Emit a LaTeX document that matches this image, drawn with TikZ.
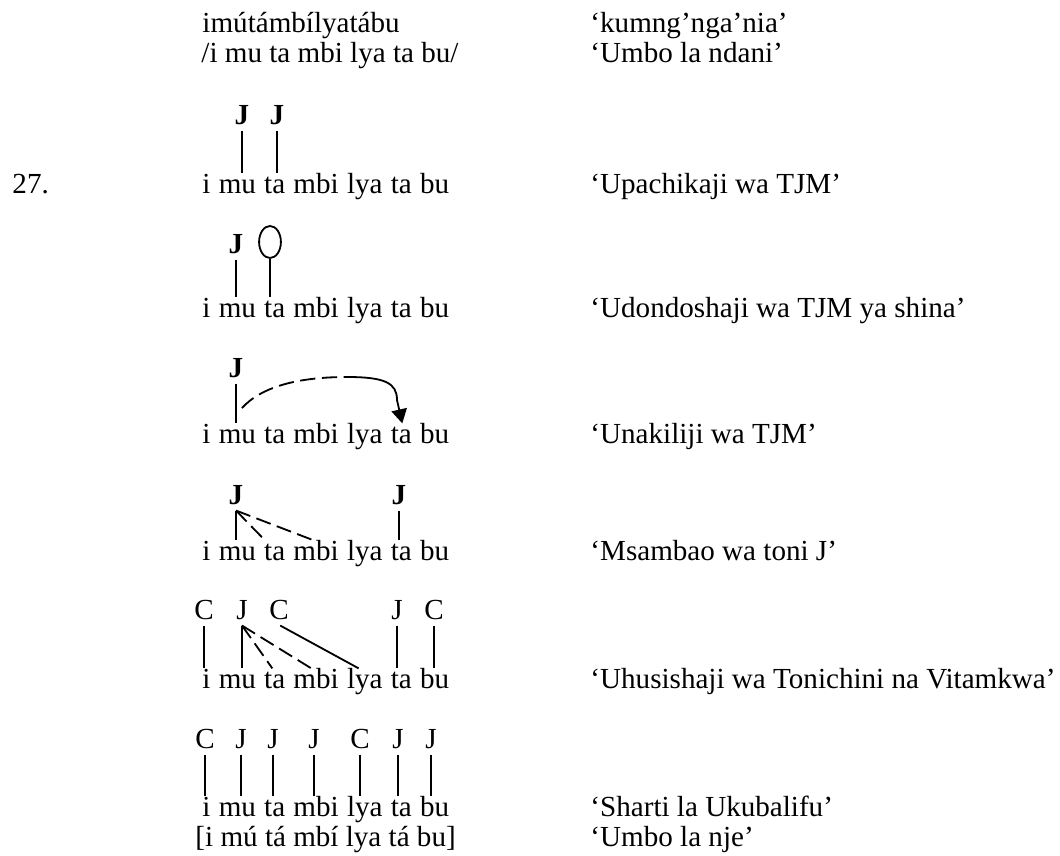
\documentclass[tikz,border=0pt]{standalone}
\usepackage{fontspec}
\setmainfont{Liberation Serif}
\usetikzlibrary{arrows.meta,shapes.geometric}
\tikzset{
  basetext/.style={font=\fontsize{12pt}{14.4pt}\selectfont, inner sep=0pt},
  lab/.style={basetext, anchor=base west},
  syl/.style={basetext, anchor=base west, text height=7.9pt, text depth=2pt},
  tonebf/.style={font=\fontsize{12pt}{14.4pt}\selectfont\bfseries, inner xsep=0pt, inner ysep=2.5pt, text depth=0pt, anchor=base},
  tonerg/.style={font=\fontsize{12pt}{14.4pt}\selectfont, inner xsep=0pt, inner ysep=2.5pt, text depth=0pt, anchor=base},
  assoc/.style={line width=0.75pt},
  delink/.style={line width=0.75pt, dash pattern=on 6.3pt off 2.7pt},
  floatT/.style={draw, ellipse, line width=0.75pt, minimum width=9pt, minimum height=13.2pt, inner sep=0pt},
}
\newcommand{\sylrow}[2]{%
  \node[syl] (#1a) at (202,#2) {i};
  \node[syl] (#1b) at ([xshift=3pt]#1a.base east) {mu};
  \node[syl] (#1c) at ([xshift=3pt]#1b.base east) {ta};
  \node[syl] (#1d) at ([xshift=3pt]#1c.base east) {mbi};
  \node[syl] (#1e) at ([xshift=3pt]#1d.base east) {lya};
  \node[syl] (#1f) at ([xshift=3pt]#1e.base east) {ta};
  \node[syl] (#1g) at ([xshift=3pt]#1f.base east) {bu};
}
\begin{document}
\begin{tikzpicture}[x=0.41237pt,y=-0.41237pt]
\useasboundingbox (0,0) rectangle (1060,856);
% header
\node[lab] (w0) at (202,32) {imútámbílyatábu};
\node[lab] (w1) at (201,62) {/i mu ta mbi lya ta bu/};
\node[lab] (g0) at (590,32) {‘kumng’nga’nia’};
\node[lab] (g1) at (590,62) {‘Umbo la ndani’};
\node[lab] (num) at (12,193) {27.};
% row 2
\sylrow{r2}{193}
\node[tonebf] (r2J1) at (242,124) {J};
\node[tonebf] (r2J2) at (277,124) {J};
\draw[assoc] (r2J1.south) -- (r2J1.south |- r2b.north);
\draw[assoc] (r2J2.south) -- (r2J2.south |- r2c.north);
\node[lab] (g2) at (590,193) {‘Upachikaji wa TJM’};
% row 3
\sylrow{r3}{317}
\node[tonebf] (r3J) at (236,253) {J};
\node[floatT] (r3O) at (270,242) {};
\draw[assoc] (r3J.south) -- (r3J.south |- r3b.north);
\draw[assoc] (r3O.south) -- (r3O.south |- r3c.north);
\node[lab] (g3) at (590,317) {‘Udondoshaji wa TJM ya shina’};
% row 4
\sylrow{r4}{443}
\node[tonebf] (r4J) at (236,377) {J};
\draw[assoc] (r4J.south) -- (r4J.south |- r4b.north);
\coordinate (r4S) at (242,408);
\coordinate (r4M) at (347,377);
\draw[delink] (r4S) .. controls (262,386) and (300,377) .. (r4M);
\draw[assoc, -{Triangle[width=6.4pt,length=5.8pt]}] (r4M) .. controls (385,377) and (397,383) .. (397,400) -- ([xshift=0.4pt]r4f.north);
\node[lab] (g4) at (590,443) {‘Unakiliji wa TJM’};
% row 5
\sylrow{r5}{560}
\node[tonebf] (r5J1) at (236,504) {J};
\node[tonebf] (r5J2) at (399,504) {J};
\draw[assoc] (r5J1.south) -- (r5J1.south |- r5b.north);
\draw[delink] (r5J1.south) -- ([xshift=0.5pt]r5c.north west);
\draw[delink] (r5J1.south) -- ([xshift=-1pt]r5d.north);
\draw[assoc] (r5J2.south) -- (r5J2.south |- r5f.north);
\node[lab] (g5) at (590,560) {‘Msambao wa toni J’};
% row 6
\sylrow{r6}{688}
\node[tonerg] (r6C1) at (204,619) {C};
\node[tonerg] (r6J1) at (242,619) {J};
\node[tonerg] (r6C2) at (279,619) {C};
\node[tonerg] (r6J2) at (397,619) {J};
\node[tonerg] (r6C3) at (434,619) {C};
\draw[assoc] (r6C1.south) -- (r6C1.south |- r6a.north);
\draw[assoc] (r6J1.south) -- (r6J1.south |- r6b.north);
\draw[delink] (r6J1.south) -- ([xshift=-1pt]r6c.north);
\draw[delink] (r6J1.south) -- ([xshift=-2pt]r6d.north);
\draw[assoc] ([xshift=0.5pt]r6C2.south) -- ([xshift=5pt]r6e.north west);
\draw[assoc] (r6J2.south) -- (r6J2.south |- r6f.north);
\draw[assoc] (r6C3.south) -- (r6C3.south |- r6g.north);
\node[lab] (g6) at (590,688) {‘Uhusishaji wa Tonichini na Vitamkwa’};
% row 7
\sylrow{r7}{816}
\node[tonerg] (r7T1) at (205,748) {C};
\node[tonerg] (r7T2) at (241,748) {J};
\node[tonerg] (r7T3) at (273,748) {J};
\node[tonerg] (r7T4) at (314,748) {J};
\node[tonerg] (r7T5) at (360,748) {C};
\node[tonerg] (r7T6) at (398,748) {J};
\node[tonerg] (r7T7) at (431,748) {J};
\draw[assoc] (r7T1.south) -- (r7T1.south |- r7a.north);
\draw[assoc] (r7T2.south) -- (r7T2.south |- r7b.north);
\draw[assoc] (r7T3.south) -- (r7T3.south |- r7c.north);
\draw[assoc] (r7T4.south) -- (r7T4.south |- r7d.north);
\draw[assoc] (r7T5.south) -- (r7T5.south |- r7e.north);
\draw[assoc] (r7T6.south) -- (r7T6.south |- r7f.north);
\draw[assoc] (r7T7.south) -- (r7T7.south |- r7g.north);
\node[lab] (g7) at (590,816) {‘Sharti la Ukubalifu’};
\node[lab] (w2) at (195,846) {[i mú tá mbí lya tá bu]};
\node[lab] (g8) at (590,846) {‘Umbo la nje’};
\end{tikzpicture}
\end{document}
